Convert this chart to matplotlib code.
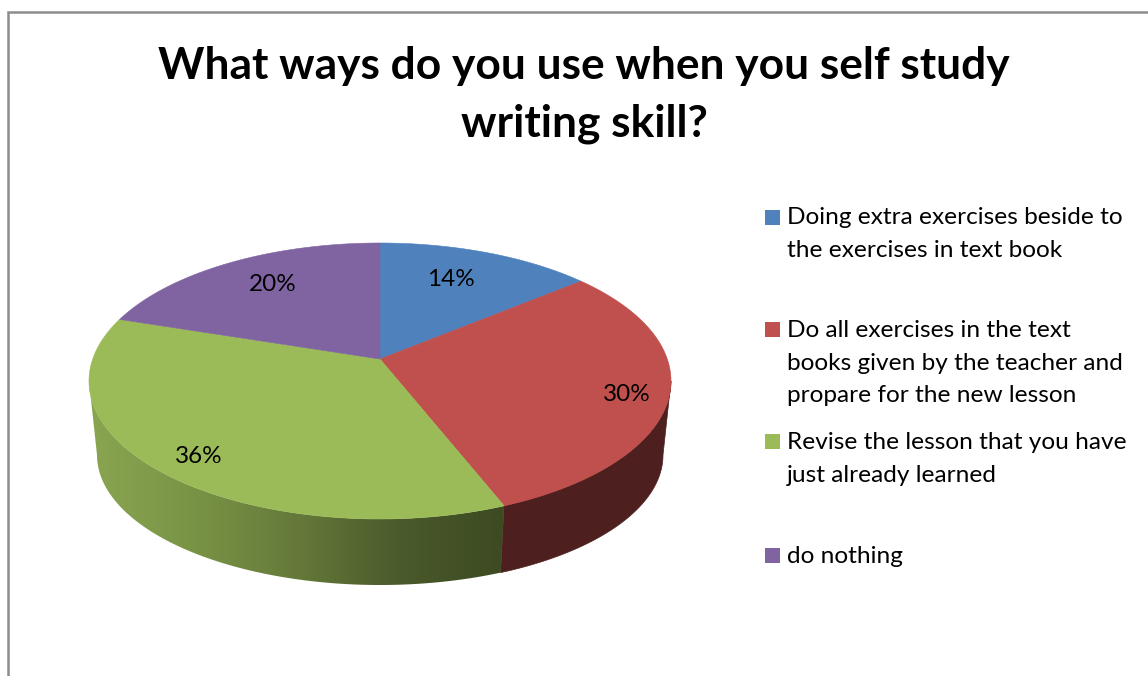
import numpy as np
import matplotlib
matplotlib.use("Agg")
import matplotlib.pyplot as plt
from matplotlib.colors import LinearSegmentedColormap
from matplotlib.patches import Polygon, Rectangle

title_lines = ["What ways do you use when you self study", "writing skill?"]
values = [14, 30, 36, 20]
percent_labels = ["14%", "30%", "36%", "20%"]
legend_labels = [
    "Doing extra exercises beside to\nthe exercises in text book",
    "Do all exercises in the text\nbooks given by the teacher and\npropare for the new lesson",
    "Revise the lesson that you have\njust already learned",
    "do nothing",
]
colors = ["#4f81bd", "#c0504d", "#9bbb59", "#8064a2"]

label_pos = [(451, 286), (627, 401), (199, 463), (273, 291)]
legend_baseline = [224.5, 336.7, 449.3, 562.7]

# pie geometry, in pixels
CX = 380
TOP_Y, BOTTOM_Y = 381, 455
TOP_A, BOTTOM_A = 291, 283
TOP_B, BOTTOM_B = 138, 130
TILT = 0.159

plt.rcParams["font.family"] = ["Lato", "DejaVu Sans"]

fig = plt.figure(figsize=(11.48, 6.76), dpi=100)
ax = fig.add_axes([0, 0, 1, 1])
ax.set_xlim(0, 1148)
ax.set_ylim(676, 0)
ax.axis("off")


def project(theta, a, b, cy):
    # perspective view of the disc, theta runs clockwise from 12 o'clock
    u, v = np.sin(theta), np.cos(theta)
    w = 1 + TILT * v
    x = CX + a * np.sqrt(1 - TILT ** 2) * u / w
    y = cy - (b * v + b * TILT) / w
    return np.column_stack([x, y])


edges = np.cumsum([0] + values) / sum(values) * 2 * np.pi

# chart frame, runs off the right and bottom
ax.plot([7.5, 7.5, 1148], [676, 11.5, 11.5], color="#8c8c8c", lw=1.8, solid_joinstyle="miter")

# side wall, only the part between the two silhouette points can be seen
front_start = np.arccos(-TILT)
front_end = 2 * np.pi - front_start
green_shade = LinearSegmentedColormap.from_list(
    "green_side", ["#8aa651", "#7a9446", "#657a3a", "#4a5a2b", "#3d4a22"]
)
for i in range(len(values)):
    start = max(edges[i], front_start)
    end = min(edges[i + 1], front_end)
    if start >= end:
        continue
    theta = np.linspace(start, end, 200)
    wall = np.vstack([project(theta, TOP_A, TOP_B, TOP_Y),
                      project(theta, BOTTOM_A, BOTTOM_B, BOTTOM_Y)[::-1]])
    if i == 2:
        poly = Polygon(wall, closed=True, fc="none", ec="none")
        ax.add_patch(poly)
        img = ax.imshow(
            np.linspace(0, 1, 256).reshape(1, -1),
            cmap=green_shade,
            extent=[85, 506, 600, 350],
            aspect="auto",
            zorder=1,
        )
        img.set_clip_path(poly)
    else:
        ax.fill(wall[:, 0], wall[:, 1], color="#4e1f1f", ec="#4e1f1f", lw=0.5, zorder=0.9)

# top face
apex = (CX, TOP_Y - TOP_B * TILT)
for i in range(len(values)):
    theta = np.linspace(edges[i], edges[i + 1], 200)
    rim = project(theta, TOP_A, TOP_B, TOP_Y)
    ax.fill(
        np.r_[apex[0], rim[:, 0]],
        np.r_[apex[1], rim[:, 1]],
        color=colors[i],
        lw=0.4,
        zorder=2,
    )

for (x, y), text in zip(label_pos, percent_labels):
    ax.text(x, y, text, fontsize=17.5, color="black", ha="center", va="baseline", zorder=3)

for i, line in enumerate(title_lines):
    ax.text(584, 78.5 + i * 58, line, fontsize=31.9, fontweight="bold", color="black",
            ha="center", va="baseline")

# legend
for y, label, color in zip(legend_baseline, legend_labels, colors):
    ax.add_patch(Rectangle((765, y - 15), 15, 15, fc=color, ec="none"))
    for j, line in enumerate(label.split("\n")):
        ax.text(787, y + j * 32.8, line, fontsize=17.6, color="black", ha="left", va="baseline")

fig.savefig("out.png", dpi=100, facecolor="white")
